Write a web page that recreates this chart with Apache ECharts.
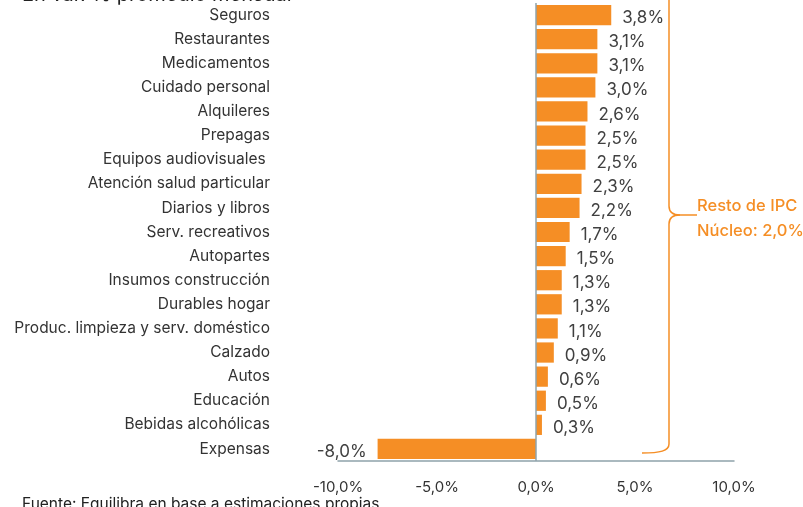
<!DOCTYPE html>
<html lang="es">
<head>
    <meta charset="UTF-8">
    <title>Variación promedio mensual</title>
    <script src="https://cdn.jsdelivr.net/npm/echarts@6/dist/echarts.min.js"></script>
    <style>
        html, body { margin: 0; padding: 0; background: #fff; }
        #chart { width: 803px; height: 507px; }
    </style>
</head>
<body>
<div id="chart"></div>
<script>
    const categories = [
        'Seguros', 'Restaurantes', 'Medicamentos', 'Cuidado personal', 'Alquileres',
        'Prepagas', 'Equipos audiovisuales ', 'Atención salud particular', 'Diarios y libros',
        'Serv. recreativos', 'Autopartes', 'Insumos construcción', 'Durables hogar',
        'Produc. limpieza y serv. doméstico', 'Calzado', 'Autos', 'Educación',
        'Bebidas alcohólicas', 'Expensas'
    ];
    const values = [3.8, 3.1, 3.1, 3.0, 2.6, 2.5, 2.5, 2.3, 2.2, 1.7, 1.5, 1.3, 1.3, 1.1, 0.9, 0.6, 0.5, 0.3, -8.0];
    const xTicks = [-10, 10, 5];  // min, max, interval
    const noteLines = ['Resto de IPC', 'Núcleo: 2,0%'];

    const orange = '#F58E25';
    const textColor = '#333333';
    const axisColor = '#8FA3AB';
    const font = 'Inter, "Noto Sans", sans-serif';

    const fmt = v => v.toFixed(1).replace('.', ',') + '%';

    // curly brace around the positive bars
    const braceStyle = { stroke: orange, lineWidth: 1.5, fill: null };
    const brace = [
        { type: 'bezierCurve', shape: { x1: 642, y1: 453, cpx1: 660, cpy1: 453, cpx2: 669, cpy2: 451, x2: 669, y2: 444 } },
        { type: 'line', shape: { x1: 669, y1: 444, x2: 669, y2: 224 } },
        { type: 'bezierCurve', shape: { x1: 669, y1: 224, cpx1: 669, cpy1: 218, cpx2: 672, cpy2: 215, x2: 680, y2: 215 } },
        { type: 'line', shape: { x1: 680, y1: 215, x2: 697, y2: 215 } },
        { type: 'bezierCurve', shape: { x1: 680, y1: 215, cpx1: 672, cpy1: 215, cpx2: 669, cpy2: 212, x2: 669, y2: 206 } },
        { type: 'line', shape: { x1: 669, y1: 206, x2: 669, y2: -5 } }
    ].map(g => Object.assign(g, { style: braceStyle, silent: true }));

    const chart = echarts.init(document.getElementById('chart'));
    chart.setOption({
        animation: false,
        textStyle: { fontFamily: font },
        grid: { left: 338, right: 69, top: 3, bottom: 46 },
        xAxis: {
            type: 'value',
            min: xTicks[0],
            max: xTicks[1],
            interval: xTicks[2],
            axisLine: { show: true, lineStyle: { color: axisColor, width: 1.5 } },
            axisTick: { show: false },
            splitLine: { show: false },
            axisLabel: { color: textColor, fontSize: 15, margin: 19, formatter: fmt }
        },
        yAxis: {
            type: 'category',
            data: categories,
            inverse: true,
            axisLine: { show: false },
            axisTick: { show: false },
            axisLabel: { color: textColor, fontSize: 15.5, margin: 68 }
        },
        series: [{
            type: 'bar',
            data: values.map(v => ({
                value: v,
                label: { position: v < 0 ? 'left' : 'right' }
            })),
            barCategoryGap: '16%',
            itemStyle: { color: orange },
            label: {
                show: true,
                distance: 11,
                offset: [0, 3],
                color: '#404040',
                fontSize: 17,
                formatter: p => fmt(p.value)
            },
            markLine: {
                silent: true,
                symbol: 'none',
                label: { show: false },
                lineStyle: { color: axisColor, width: 1.5, type: 'solid' },
                data: [{ xAxis: 0 }]
            }
        }],
        graphic: [
            {
                type: 'text', left: 22, top: -15,
                style: { text: 'En var. % promedio mensual', fontSize: 20, fill: '#222', fontFamily: font }
            },
            {
                type: 'text', left: 22, top: 496,
                style: { text: 'Fuente: Equilibra en base a estimaciones propias', fontSize: 15.5, fill: '#222', fontFamily: font }
            },
            ...brace,
            {
                type: 'text', left: 697, top: 198,
                style: { text: noteLines[0], fontSize: 16.5, fontWeight: 500, fill: orange, fontFamily: font }
            },
            {
                type: 'text', left: 697, top: 223,
                style: { text: noteLines[1], fontSize: 16.5, fontWeight: 500, fill: orange, fontFamily: font }
            }
        ]
    });
</script>
</body>
</html>
